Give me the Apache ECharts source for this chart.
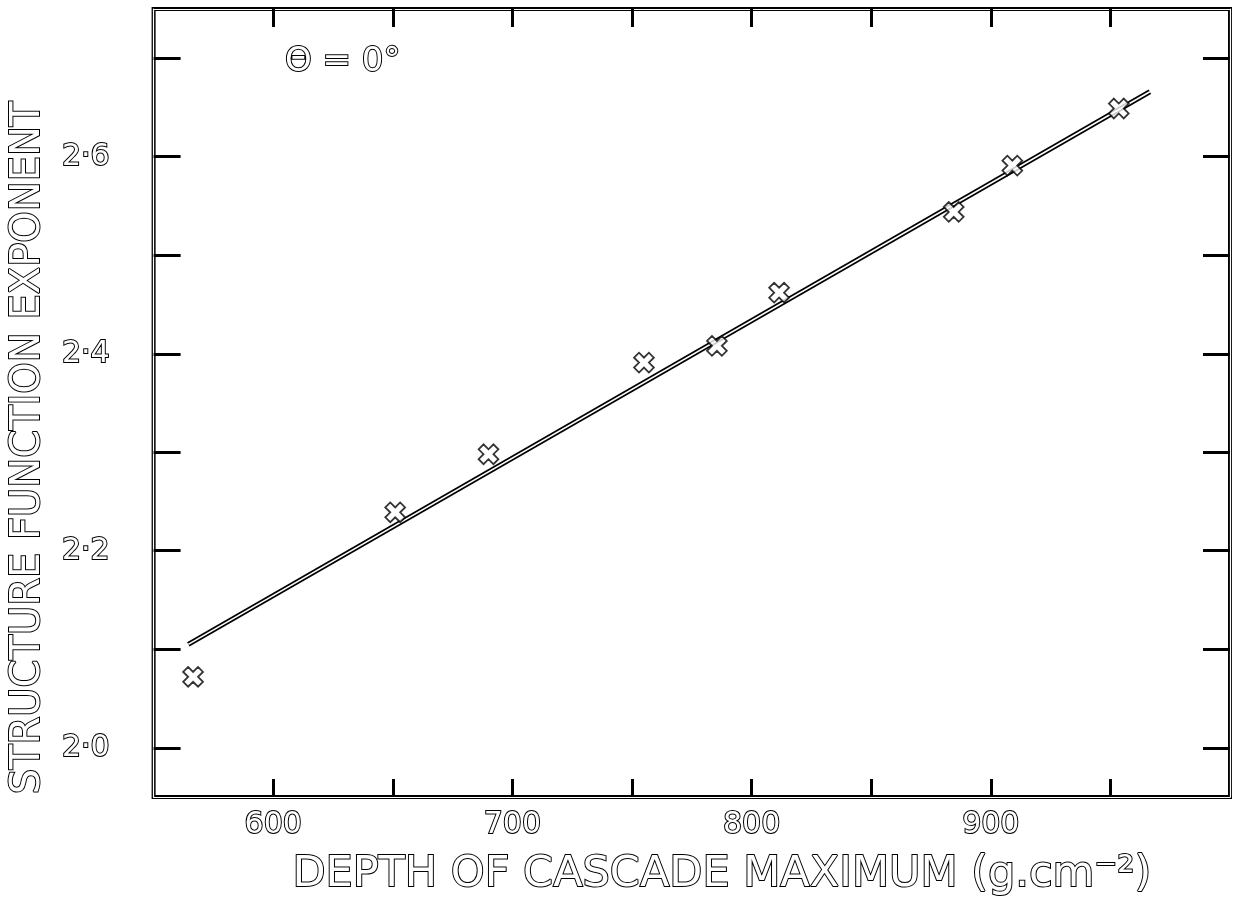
<!DOCTYPE html>
<html>
<head>
<meta charset="utf-8">
<script src="https://cdn.jsdelivr.net/npm/echarts@6/dist/echarts.min.js"></script>
<style>
html,body{margin:0;padding:0;background:#fff;}
#chart{width:1248px;height:906px;}
</style>
</head>
<body>
<div id="chart"></div>
<script>
// Data
const depthValues = [566.5, 651, 690, 755, 785.5, 811.5, 884.5, 909, 953.5];
const exponentValues = [2.072, 2.239, 2.298, 2.391, 2.408, 2.462, 2.544, 2.591, 2.649];
const fitLineX = [564.5, 966.5];
const fitLineY = [2.105, 2.666];
const xTickValues = [600, 650, 700, 750, 800, 850, 900, 950];
const xLabelValues = [600, 700, 800, 900];
const yTickValues = [2.0, 2.1, 2.2, 2.3, 2.4, 2.5, 2.6, 2.7];
const yLabelValues = [2.0, 2.2, 2.4, 2.6];
const xTitle = 'DEPTH OF CASCADE MAXIMUM (g.cm\u207B\u00B2)';
const yTitle = 'STRUCTURE FUNCTION EXPONENT';
const annotation = '\u0398 = 0\u00B0';

const pointData = depthValues.map((x, i) => [x, exponentValues[i]]);
const lineData = fitLineX.map((x, i) => [x, fitLineY[i]]);

const outlineText = {
  color: '#ffffff',
  textBorderColor: '#000000',
  textBorderWidth: 2,
  fontFamily: 'DejaVu Sans',
};

const crossPath = 'path://M-1,-3 L1,-3 L1,-1 L3,-1 L3,1 L1,1 L1,3 L-1,3 L-1,1 L-3,1 L-3,-1 L-1,-1 Z';

const chart = echarts.init(document.getElementById('chart'));
const baseX = {
  type: 'value', min: 550, max: 1000, interval: 50,
  splitLine: {show: false},
  axisLine: {show: true, lineStyle: {color: '#ffffff', width: 1.2}},
  axisTick: {show: true, inside: true, length: 18, customValues: xTickValues,
             lineStyle: {color: '#000', width: 3}},
};
const baseY = {
  type: 'value', min: 1.95, max: 2.75,
  splitLine: {show: false},
  axisLine: {show: true, lineStyle: {color: '#ffffff', width: 1.2}},
  axisTick: {show: true, inside: true, length: 27, customValues: yTickValues,
             lineStyle: {color: '#000', width: 3}},
};
chart.setOption({
  backgroundColor: '#ffffff',
  animation: false,
  grid: {left: 126, right: 18, top: 9, bottom: 109, show: true,
         borderColor: '#000', borderWidth: 4, backgroundColor: 'transparent'},
  xAxis: [
    Object.assign({}, baseX, {
      position: 'bottom',
      name: xTitle, nameLocation: 'middle', nameGap: 56,
      nameTextStyle: Object.assign({}, outlineText, {fontSize: 43, padding: [0, 0, 0, 60]}),
      axisLabel: {show: true, customValues: xLabelValues, margin: 13,
                  formatter: v => String(v),
                  ...outlineText, fontSize: 30},
    }),
    Object.assign({}, baseX, {position: 'top', axisLabel: {show: false}}),
  ],
  yAxis: [
    Object.assign({}, baseY, {
      position: 'left',
      name: yTitle, nameLocation: 'middle', nameGap: 80,
      nameTextStyle: Object.assign({}, outlineText, {fontSize: 40, padding: [0, 90, 0, 0]}),
      axisLabel: {show: true, customValues: yLabelValues, margin: 44,
                  formatter: v => v.toFixed(1).replace('.', '\u00B7'),
                  ...outlineText, fontSize: 30},
    }),
    Object.assign({}, baseY, {position: 'right', axisLabel: {show: false}}),
  ],
  series: [
    {type: 'line', data: lineData, symbol: 'none', silent: true, z: 2,
     lineStyle: {color: '#000', width: 5}},
    {type: 'line', data: lineData, symbol: 'none', silent: true, z: 3,
     lineStyle: {color: '#fff', width: 1.6}},
    {type: 'scatter', data: pointData, symbol: crossPath, symbolSize: 21,
     symbolRotate: 45, z: 4,
     itemStyle: {color: '#fff', borderColor: '#000', borderWidth: 1.8}},
  ],
  graphic: [{
    type: 'text', left: 284, top: 44,
    style: {text: annotation, fontSize: 34, fontFamily: 'DejaVu Sans',
            fill: '#fff', stroke: '#000', lineWidth: 2}
  }],
});
</script>
</body>
</html>
